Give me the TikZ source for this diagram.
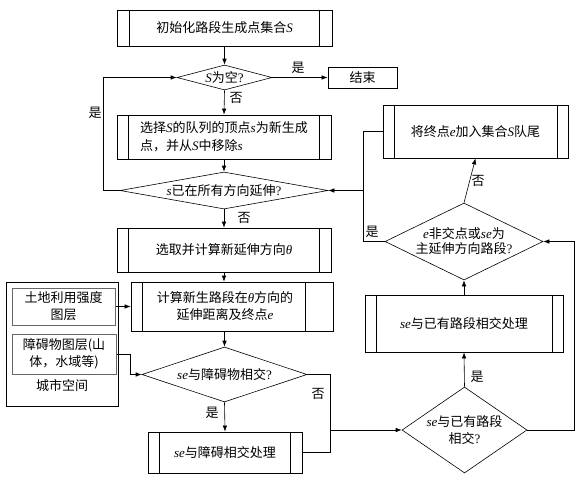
\documentclass[tikz,border=0pt]{standalone}
\usepackage{fontspec}
\setmainfont{Noto Sans CJK SC}
\newfontfamily\libs{Liberation Serif}
\usetikzlibrary{shapes.geometric,arrows.meta}
\newcommand\vi[1]{{\libs\itshape #1}}
\newcommand\qm{{\libs ?}}
\newcommand\bars[3]{%
  \draw[boxline] ([xshift=#2]#1.north west) -- ([xshift=#2]#1.south west);
  \draw[boxline] ([xshift=-#3]#1.north east) -- ([xshift=-#3]#1.south east);}
\begin{document}
\begin{tikzpicture}[x=1pt,y=-1pt,
  font=\fontsize{13}{17}\selectfont,
  boxline/.style={line width=0.8pt},
  proc/.style={draw, line width=0.8pt, inner sep=0pt},
  dia/.style={draw, diamond, inner sep=0pt, line width=0.6pt},
  arr/.style={-{Latex[length=6pt,width=4.5pt]}, line width=0.6pt},
  ln/.style={line width=0.6pt},
  lab/.style={inner sep=1pt}]
\useasboundingbox (0,0) rectangle (586,483);
% main column
\node[proc, minimum width=215, minimum height=36] (b1) at (224.5,28) {初始化路段生成点集合\vi{S}};
\node[dia, minimum width=95, minimum height=25] (d1) at (224.5,77.5) {};
\node (d1t) at (d1) {\vi{S}为空\qm};
\node[proc, minimum width=69, minimum height=21] (end) at (362.5,77.5) {结束};
\node[proc, minimum width=214, minimum height=44, align=left, font=\fontsize{13}{18}\selectfont] (b2) at (224,137) {选择\vi{S}的队列的顶点\vi{s}为新生成\\点，并从\vi{S}中移除\vi{s}};
\node[dia, minimum width=208, minimum height=37] (d2) at (224,190.5) {};
\node (d2t) at (d2) {\vi{s}已在所有方向延伸\qm};
\node[proc, minimum width=214, minimum height=44] (b3) at (224,250) {选取并计算新延伸方向\vi{θ}};
\node[proc, minimum width=202, minimum height=49] (b4) at (232,306.5) {};
\node[align=center] (b4t) at (225,306.5) {计算新生路段在\vi{θ}方向的\\延伸距离及终点\vi{e}};
\node[dia, minimum width=165, minimum height=55] (d3) at (224.5,374.5) {};
\node (d3t) at (d3) {\vi{se}与障碍物相交\qm};
\node[proc, minimum width=154, minimum height=41] (b5) at (225,452.5) {\vi{se}与障碍相交处理};
% city space
\node[draw, line width=0.8pt, minimum width=112, minimum height=124, inner sep=0pt] (city) at (62,344) {};
\node[proc, draw=black!60, line width=1pt, minimum width=103, minimum height=37, align=center] (l1) at (63.5,306.5) {土地利用强度\\图层};
\node[proc, draw=black!60, line width=1pt, minimum width=104, minimum height=40, align=center] (l2) at (64,354) {障碍物图层(山\\体，水域等)};
\node (cityt) at (62,386) {城市空间};
% right column
\node[dia, minimum width=125, minimum height=86] (d4) at (464.5,430) {};
\node[align=center] (d4t) at (d4) {\vi{se}与已有路段\\相交\qm};
\node[proc, minimum width=198, minimum height=57] (b6) at (464,323.5) {\vi{se}与已有路段相交处理};
\node[dia, minimum width=158, minimum height=77] (d5) at (464,241.5) {};
\node[align=center, font=\fontsize{13}{15}\selectfont] (d5t) at (d5) {\vi{e}非交点或\vi{se}为\\主延伸方向路段\qm};
\node[proc, minimum width=185, minimum height=53] (b7) at (475.5,131.5) {将终点\vi{e}加入集合\vi{S}队尾};
% bars
\bars{b1}{13pt}{13pt}
\bars{b2}{12pt}{12pt}
\bars{b3}{12pt}{12pt}
\bars{b4}{12pt}{28pt}
\bars{b5}{12pt}{12pt}
\bars{b6}{12pt}{11pt}
\bars{b7}{12pt}{11pt}
% connectors
\coordinate (cl) at (103,190.5);
\coordinate (j1) at (130,354);
\coordinate (j2) at (330,374.5);
\coordinate (j3) at (330,430);
\coordinate (j4) at (574,430);
\coordinate (j5) at (363,190.5);
\draw[arr] (b1.south) -- (d1.north);
\draw[arr] (d1.east) -- (end.west);
\draw[arr] (d1.south) -- (b2.north);
\draw[arr] (b2.south) -- (d2.north);
\draw[arr] (d2.west) -- (cl) |- (d1.west);
\draw[arr] (d2.south) -- (b3.north);
\draw[arr] (b3.south) -- (b3.south |- b4.north);
\draw[arr] (l1.east) -- (l1.east -| b4.west);
\draw[arr] (l2.east) -- (j1) |- (d3.west);
\draw[arr] (b4.south -| d3.north) -- (d3.north);
\draw[arr] (d3.south) -- (b5.north);
\draw[ln] (d3.east) -- (j2) |- (b5.east);
\draw[arr] (j3) -- (d4.west);
\draw[arr] (d4.north) -- (b6.south);
\draw[arr] (b6.north) -- (d5.south);
\draw[arr] (d4.east) -- (j4) |- (d5.east);
\draw[arr] (d5.north) -- (b7.south);
\draw[arr] (b7.west) -| (j5) -- (d2.east);
\draw[ln] (d5.west) -| (j5);
% labels
\node[lab] (y1) at (298,68) {是};
\node[lab] (n1) at (236,98) {否};
\node[lab] (y2) at (95,113) {是};
\node[lab] (n2) at (244,218) {否};
\node[lab] (y3) at (212,413) {是};
\node[lab] (n3) at (318,394) {否};
\node[lab] (y4) at (477,377) {是};
\node[lab] (n4) at (478,181) {否};
\node[lab] (y5) at (372,232) {是};
\end{tikzpicture}
\end{document}
